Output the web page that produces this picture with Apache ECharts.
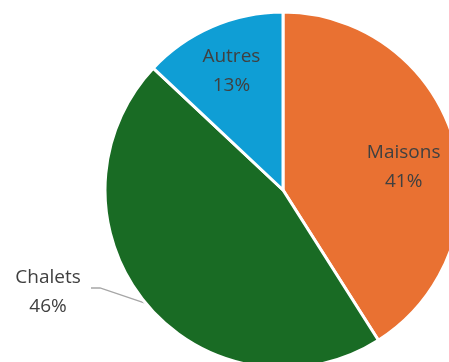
<!DOCTYPE html>
<html>
<head>
<meta charset="utf-8">
<script src="https://cdn.jsdelivr.net/npm/echarts@6/dist/echarts.min.js"></script>
<style>
  html, body { margin: 0; padding: 0; background: #ffffff; }
  #chart { width: 449px; height: 362px; }
</style>
</head>
<body>
<div id="chart"></div>
<script>
// Répartition par type de logement
const categories = ['Maisons', 'Chalets', 'Autres'];
const values = [41, 46, 13];
const colors = ['#E97132', '#196B24', '#0F9ED5'];

const chart = echarts.init(document.getElementById('chart'), null, { renderer: 'canvas' });

const center = [283, 190];
const radius = 178;
const total = values.reduce((a, b) => a + b, 0);

// Angle médian de chaque secteur (en degrés, sens horaire depuis midi)
const midAngles = [];
let acc = 0;
values.forEach(v => {
  midAngles.push((acc + v / 2) / total * 360);
  acc += v;
});

// Étiquettes intérieures : fraction du rayon et décalage angulaire (degrés)
const insideLabel = {
  Maisons: { ratio: 0.69, shift: 5.5 },
  Autres: { ratio: 0.73, shift: 0 }
};
// Étiquette extérieure (Chalets) et coude de sa ligne de rappel
const outsideLabelPos = [48, 292];
const leaderKnee = [[100, 288], [91, 288]];

function polar(angleDeg, r) {
  const a = angleDeg * Math.PI / 180;
  return [center[0] + r * Math.sin(a), center[1] - r * Math.cos(a)];
}

chart.setOption({
  animation: false,
  series: [{
    type: 'pie',
    center: center,
    radius: [0, radius],
    startAngle: 90,
    clockwise: true,
    avoidLabelOverlap: false,
    itemStyle: { borderColor: '#ffffff', borderWidth: 3 },
    label: {
      show: true,
      formatter: '{b}\n{d}%',
      fontFamily: 'Open Sans',
      fontSize: 19,
      lineHeight: 29,
      color: '#404040',
      align: 'center'
    },
    labelLine: {
      show: true,
      lineStyle: { color: '#A6A6A6', width: 1.3 }
    },
    labelLayout: function (params) {
      const i = params.dataIndex;
      const cfg = insideLabel[categories[i]];
      if (cfg) {
        const p = polar(midAngles[i] + cfg.shift, radius * cfg.ratio);
        return { x: p[0], y: p[1], align: 'center', verticalAlign: 'middle' };
      }
      return {
        x: outsideLabelPos[0],
        y: outsideLabelPos[1],
        align: 'center',
        verticalAlign: 'middle',
        labelLinePoints: [polar(midAngles[i], radius), leaderKnee[0], leaderKnee[1]]
      };
    },
    data: categories.map((c, i) => ({
      name: c,
      value: values[i],
      itemStyle: { color: colors[i] },
      label: { position: c === 'Chalets' ? 'outside' : 'inside' },
      labelLine: { show: c === 'Chalets' }
    }))
  }]
});
</script>
</body>
</html>
